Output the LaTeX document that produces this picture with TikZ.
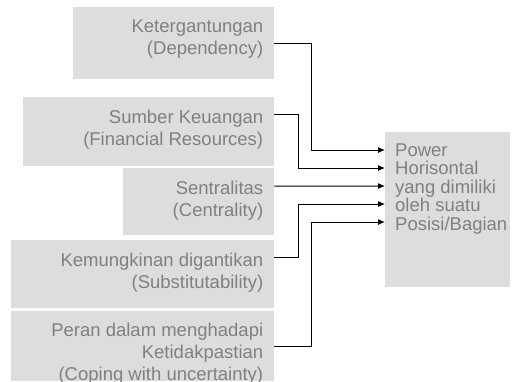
\documentclass[tikz,border=0pt]{standalone}
\usepackage{fontspec}
\setmainfont{Liberation Sans}
\usepackage{tikz}
\usetikzlibrary{positioning, arrows.meta}

\definecolor{boxgray}{RGB}{221,221,221}
\definecolor{txtgray}{RGB}{128,128,128}

\tikzset{
  factor/.style={fill=boxgray, inner sep=0pt, anchor=north west},
  factortxt/.style={text=txtgray, align=right, inner sep=0pt, anchor=north east,
    font=\fontsize{18.5bp}{22bp}\selectfont},
  powertxt/.style={text=txtgray, align=left, inner sep=0pt, anchor=north west,
    font=\fontsize{18.5bp}{18.5bp}\selectfont},
  conn/.style={line width=1bp, -{Latex[length=7bp,width=6bp]}}
}

\begin{document}
\begin{tikzpicture}[x=1bp,y=1bp]
\useasboundingbox (0,0) rectangle (512,381);

%factor boxes
\node[factor, minimum width=201bp, minimum height=72bp] (dep) at (73,374) {};
\node[factor, minimum width=251bp, minimum height=69bp] (fin) at (23,284) {};
\node[factor, minimum width=151bp, minimum height=67bp] (cen) at (123,213) {};
\node[factor, minimum width=263bp, minimum height=68bp] (sub) at (11,141) {};
\node[factor, minimum width=263bp, minimum height=70bp] (cop) at (11,70) {};

\node[factortxt] (dep-txt) at ([xshift=-11bp,yshift=-13bp]dep.north east)
  {Ketergantungan\\(Dependency)};
\node[factortxt] (fin-txt) at ([xshift=-11bp,yshift=-13bp]fin.north east)
  {Sumber Keuangan\\(Financial Resources)};
\node[factortxt] (cen-txt) at ([xshift=-11bp,yshift=-13bp]cen.north east)
  {Sentralitas\\(Centrality)};
\node[factortxt] (sub-txt) at ([xshift=-11bp,yshift=-13bp]sub.north east)
  {Kemungkinan digantikan\\(Substitutability)};
\node[factortxt] (cop-txt) at ([xshift=-11bp,yshift=-12bp]cop.north east)
  {Peran dalam menghadapi\\Ketidakpastian\\(Coping with uncertainty)};

%power box
\node[factor, minimum width=125bp, minimum height=155bp] (power) at (385,249) {};
\node[powertxt] (power-txt) at ([xshift=10bp,yshift=-11.5bp]power.north west)
  {Power\\Horisontal\\yang dimiliki\\oleh suatu\\Posisi/Bagian};

%connectors
\coordinate (dep-o) at ([yshift=-36bp]dep.north east);
\coordinate (fin-o) at ([yshift=-17bp]fin.north east);
\coordinate (cen-o) at ([yshift=-18bp]cen.north east);
\coordinate (sub-o) at ([yshift=-17bp]sub.north east);
\coordinate (cop-o) at ([yshift=-35bp]cop.north east);
\foreach \i in {1,...,5}
  \coordinate (in\i) at ([yshift=-18bp*\i]power.north west);

\draw[conn] (dep-o) -- ++(37,0) |- (in1);
\draw[conn] (fin-o) -- ++(24,0) |- (in2);
\draw[conn] (cen-o) -- (in3);
\draw[conn] (sub-o) -- ++(24,0) |- (in4);
\draw[conn] (cop-o) -- ++(37,0) |- (in5);
\end{tikzpicture}
\end{document}
